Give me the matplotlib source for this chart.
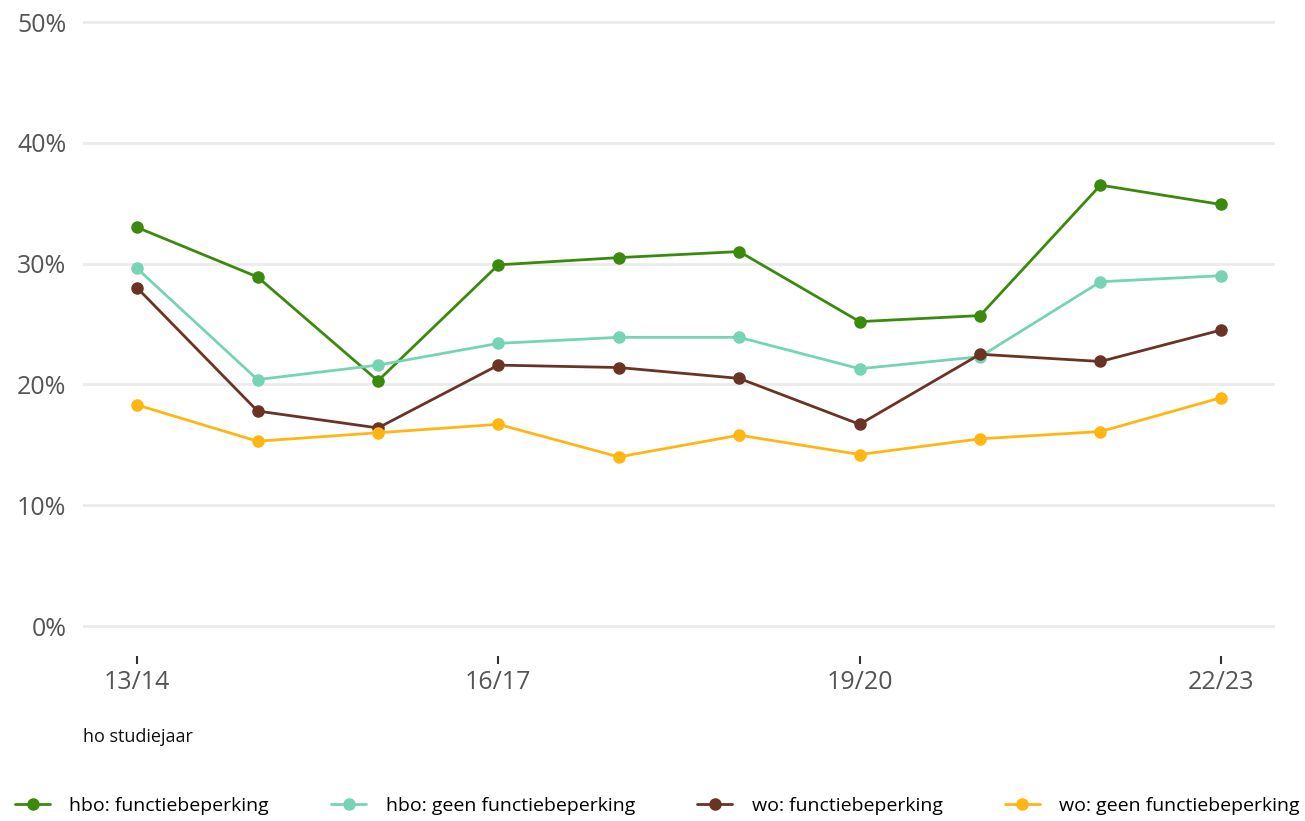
import matplotlib
matplotlib.use("Agg")
import matplotlib.pyplot as plt
from matplotlib.ticker import FuncFormatter

jaren = ["13/14", "14/15", "15/16", "16/17", "17/18", "18/19", "19/20", "20/21", "21/22", "22/23"]

hbo_functiebeperking = [33.0, 28.9, 20.3, 29.9, 30.5, 31.0, 25.2, 25.7, 36.5, 34.9]
hbo_geen = [29.6, 20.4, 21.6, 23.4, 23.9, 23.9, 21.3, 22.3, 28.5, 29.0]
wo_functiebeperking = [28.0, 17.8, 16.4, 21.6, 21.4, 20.5, 16.7, 22.5, 21.9, 24.5]
wo_geen = [18.3, 15.3, 16.0, 16.7, 14.0, 15.8, 14.2, 15.5, 16.1, 18.9]

series = [
    ("hbo: functiebeperking", hbo_functiebeperking, "#3a8a0e"),
    ("hbo: geen functiebeperking", hbo_geen, "#76d3b6"),
    ("wo: functiebeperking", wo_functiebeperking, "#6b3324"),
    ("wo: geen functiebeperking", wo_geen, "#ffb612"),
]

plt.rcParams["font.family"] = ["Open Sans", "DejaVu Sans"]

W, H = 1305, 821
fig = plt.figure(figsize=(W / 100, H / 100), dpi=100)
# axes box in pixel coordinates: x 83..1275, y 16..656 (from top)
ax = fig.add_axes([83 / W, 1 - 656 / H, (1275 - 83) / W, (656 - 16) / H])

x = list(range(len(jaren)))
for naam, waarden, kleur in series:
    ax.plot(x, waarden, color=kleur, lw=2, marker="o", ms=8, label=naam,
            solid_capstyle="round", clip_on=False)

ax.set_xlim(-0.449, 9.449)
ax.set_ylim(-2.48, 50.5)
ax.set_yticks([0, 10, 20, 30, 40, 50])
ax.yaxis.set_major_formatter(FuncFormatter(lambda v, p: f"{v:.0f}%"))
ax.set_xticks([0, 3, 6, 9])
ax.set_xticklabels([jaren[i] for i in [0, 3, 6, 9]])

ax.grid(axis="y", color="#ebebeb", lw=2)
ax.set_axisbelow(True)
for s in ax.spines.values():
    s.set_visible(False)

ax.tick_params(axis="y", length=0, pad=12, labelsize=18, labelcolor="#555555")
ax.tick_params(axis="x", length=6, width=1.5, color="#333333", pad=4,
               labelsize=18, labelcolor="#555555")

fig.text(83 / W, 1 - 737 / H, "ho studiejaar", fontsize=13, color="#111111",
         ha="left", va="center")

fig.legend(loc="center left", bbox_to_anchor=(15 / W, 1 - 806 / H), ncol=4,
           frameon=False, fontsize=14, handlelength=1.8, handletextpad=1.0,
           columnspacing=3.2, borderaxespad=0, borderpad=0)

fig.savefig("out.png", dpi=100)
